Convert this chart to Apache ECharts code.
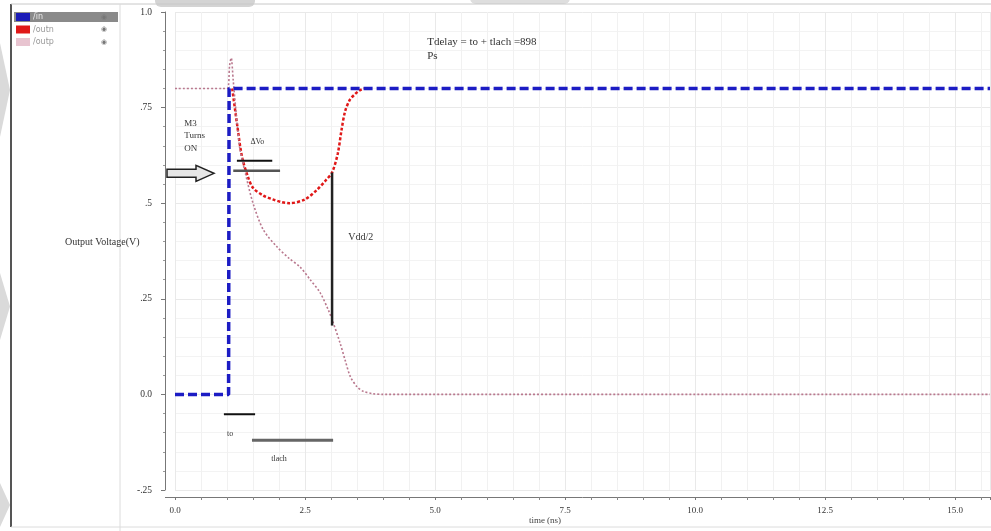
<!DOCTYPE html>
<html><head><meta charset="utf-8">
<script src="https://cdn.jsdelivr.net/npm/echarts@6/dist/echarts.min.js"></script>
<style>html,body{margin:0;padding:0;background:#fff}#c{width:991px;height:531px}</style>
</head><body><div id="c"></div>
<script>
// ---- data ----
const seriesNames = ['/in', '/outn', '/outp'];
const inX  = [0, 1.03, 1.04, 15.67];
const inY  = [0, 0, 0.8, 0.8];
const outnX = [1.10, 1.20, 1.29, 1.40, 1.50, 1.70, 1.88, 2.05, 2.20, 2.50, 2.73, 2.90, 3.02, 3.13, 3.20, 3.27, 3.36, 3.46, 3.55, 3.65, 3.75];
const outnY = [0.80, 0.70, 0.62, 0.57, 0.54, 0.52, 0.51, 0.503, 0.50, 0.51, 0.535, 0.56, 0.58, 0.63, 0.69, 0.74, 0.77, 0.785, 0.795, 0.80, 0.80];
const outpX = [0, 1.00, 1.05, 1.08, 1.12, 1.20, 1.25, 1.35, 1.50, 1.70, 1.96, 2.20, 2.40, 2.60, 2.79, 2.95, 3.02, 3.17, 3.27, 3.37, 3.50, 3.62, 3.80, 4.00, 15.67];
const outpY = [0.80, 0.80, 0.86, 0.88, 0.82, 0.70, 0.64, 0.58, 0.50, 0.43, 0.386, 0.355, 0.334, 0.30, 0.266, 0.22, 0.196, 0.136, 0.09, 0.047, 0.02, 0.008, 0.002, 0, 0];
const yTickLabels = {'1': '1.0', '0.75': '.75', '0.5': '.5', '0.25': '.25', '0': '0.0', '-0.25': '-.25'};
const xAxisTitle = 'time (ns)';
const yAxisTitle = 'Output Voltage(V)';
const noteText = 'Tdelay = to + tlach =898\nPs';

function pairs(xs, ys){ return xs.map((x,i)=>[x, ys[i]]); }

const chart = echarts.init(document.getElementById('c'), null, {renderer:'canvas'});
const serif = 'Liberation Serif';
chart.setOption({
  animation: false,
  backgroundColor: '#fff',
  textStyle: {fontFamily: serif},
  grid: {left: 175, right: 1, top: 12, bottom: 41, containLabel: false},
  legend: {
    orient: 'vertical', left: 16, top: 13, padding: 0, itemWidth: 14, itemHeight: 8, itemGap: 4.5,
    icon: 'rect',
    data: [
      {name: seriesNames[0], textStyle: {color: '#e8e8e8'}},
      {name: seriesNames[1]},
      {name: seriesNames[2]}
    ],
    textStyle: {fontFamily: 'DejaVu Sans', fontSize: 8, color: '#999', padding: [0,0,0,-2]},
    selectedMode: false
  },
  xAxis: {
    type: 'value', min: 0, max: 15.67, interval: 2.5, offset: 7,
    axisLine: {onZero: false, lineStyle: {color: '#777', width: 1}},
    axisTick: {length: 3, lineStyle: {color: '#777'}},
    minorTick: {show: true, splitNumber: 5, length: 3, lineStyle: {color: '#888'}},
    splitLine: {show: true, lineStyle: {color: '#e9e9e9'}},
    minorSplitLine: {show: true, lineStyle: {color: '#f1f1f1'}},
    axisLabel: {showMaxLabel: false, fontSize: 9, color: '#333', fontFamily: serif, margin: 9,
      formatter: v => v.toFixed(1)}
  },
  yAxis: {
    type: 'value', min: -0.25, max: 1.0, interval: 0.25, offset: 10,
    axisLine: {show: true, onZero: false, lineStyle: {color: '#777', width: 1}},
    axisTick: {show: true, length: 4, lineStyle: {color: '#777'}},
    minorTick: {show: true, splitNumber: 5, length: 2, lineStyle: {color: '#999'}},
    splitLine: {show: true, lineStyle: {color: '#e9e9e9'}},
    minorSplitLine: {show: true, lineStyle: {color: '#f3f3f3'}},
    axisLabel: {fontSize: 9.5, color: '#333', fontFamily: serif, margin: 13,
      formatter: v => yTickLabels[String(+v.toFixed(2))] ?? String(v)}
  },
  series: [
    {name: seriesNames[1], type: 'line', data: pairs(outnX, outnY), showSymbol: false, smooth: 0.3,
      z: 2, itemStyle: {color: '#e01818'}, lineStyle: {color: '#e01818', width: 2.5, type: [3, 2]}},
    {name: seriesNames[2], type: 'line', data: pairs(outpX, outpY), showSymbol: false, smooth: 0.3,
      z: 3, itemStyle: {color: '#e8c4d0'}, lineStyle: {color: '#b9788e', width: 1.6, type: [2, 2]}},
    {name: seriesNames[0], type: 'line', data: pairs(inX, inY), showSymbol: false,
      z: 4, itemStyle: {color: '#1c1cb8'}, lineStyle: {color: '#1c1cc4', width: 3.5, type: [9, 4]}}
  ]
});

// ---- annotations (data coordinates) ----
const annLines = [
  {a: [1.19, 0.611], b: [1.87, 0.611], c: '#111', w: 2},
  {a: [1.12, 0.585], b: [2.02, 0.585], c: '#555', w: 2.5},
  {a: [3.02, 0.58], b: [3.02, 0.18], c: '#222', w: 2.5},
  {a: [0.94, -0.052], b: [1.54, -0.052], c: '#111', w: 2},
  {a: [1.48, -0.12], b: [3.04, -0.12], c: '#666', w: 3}
];
const annTexts = [
  {p: [1.00, -0.104], t: 'to', s: 8, lh: 12},
  {p: [1.85, -0.168], t: 'tlach', s: 8, lh: 12},
  {p: [3.33, 0.41], t: 'Vdd/2', s: 10, lh: 12},
  {p: [1.45, 0.66], t: 'ΔVo', s: 8, lh: 12},
  {p: [0.18, 0.676], t: 'M3\nTurns\nON', s: 9, lh: 12.5},
  {p: [4.85, 0.903], t: noteText, s: 11, lh: 14}
];
const px = v => chart.convertToPixel({xAxisIndex: 0, yAxisIndex: 0}, v);
const g = [];
annLines.forEach(l => {
  const a = px(l.a), b = px(l.b);
  g.push({type: 'line', shape: {x1: a[0], y1: a[1], x2: b[0], y2: b[1]}, style: {stroke: l.c, lineWidth: l.w}, z: 10});
});
annTexts.forEach(t => {
  const p = px(t.p);
  g.push({type: 'text', x: p[0], y: p[1], style: {text: t.t, font: t.s + 'px "Liberation Serif"', fill: '#333', align: 'left', verticalAlign: 'middle', lineHeight: t.lh}, z: 10});
});
// hollow arrow pointing right
const ay = px([0, 0.578])[1];
g.push({type: 'polygon', shape: {points: [[167, ay-4],[196, ay-4],[196, ay-8],[214, ay],[196, ay+8],[196, ay+4],[167, ay+4]]},
  style: {fill: '#e6e6e6', stroke: '#222', lineWidth: 1.5}, z: 10});
// x-axis line continues left to the y-axis
g.push({type: 'line', shape: {x1: 165, y1: 497.5, x2: 175, y2: 497.5}, style: {stroke: '#777', lineWidth: 1}, z: 5});
// axis titles
g.push({type: 'text', x: 65, y: 242, style: {text: yAxisTitle, font: '10px "Liberation Serif"', fill: '#333', verticalAlign: 'middle'}, z: 10});
g.push({type: 'text', x: 545, y: 521, style: {text: xAxisTitle, font: '9px "Liberation Serif"', fill: '#444', align: 'center', verticalAlign: 'middle'}, z: 10});
// frame / panel
g.push({type: 'line', shape: {x1: 11, y1: 4, x2: 11, y2: 527}, style: {stroke: '#555', lineWidth: 2}, z: 5});
g.push({type: 'line', shape: {x1: 11, y1: 4, x2: 991, y2: 4}, style: {stroke: '#c8c8c8', lineWidth: 1}, z: 5});
g.push({type: 'line', shape: {x1: 120, y1: 4, x2: 120, y2: 531}, style: {stroke: '#dcdcdc', lineWidth: 1}, z: 5});
g.push({type: 'line', shape: {x1: 11, y1: 527, x2: 991, y2: 527}, style: {stroke: '#dcdcdc', lineWidth: 1}, z: 5});
g.push({type: 'rect', shape: {x: 14, y: 12, width: 104, height: 10}, style: {fill: '#8a8a8a'}, z: -1});
[17, 29.5, 42].forEach(y => g.push({type: 'text', x: 104, y: y, style: {text: '◉', font: '7px "DejaVu Sans"', fill: '#777', align: 'center', verticalAlign: 'middle'}, z: 10}));
// faint watermark shapes
g.push({type: 'rect', shape: {x: 155, y: -6, width: 100, height: 13, r: 6}, style: {fill: '#d4d4d4'}, z: 1});
g.push({type: 'rect', shape: {x: 470, y: -8, width: 100, height: 12, r: 6}, style: {fill: '#dedede'}, z: 1});
[[43, 137], [273, 340], [483, 527]].forEach(r => g.push({type: 'polygon', shape: {points: [[0, r[0]], [10, (r[0]+r[1])/2], [0, r[1]]]}, style: {fill: '#dadada'}, z: 1}));
chart.setOption({graphic: {elements: g}});
</script>
</body></html>
